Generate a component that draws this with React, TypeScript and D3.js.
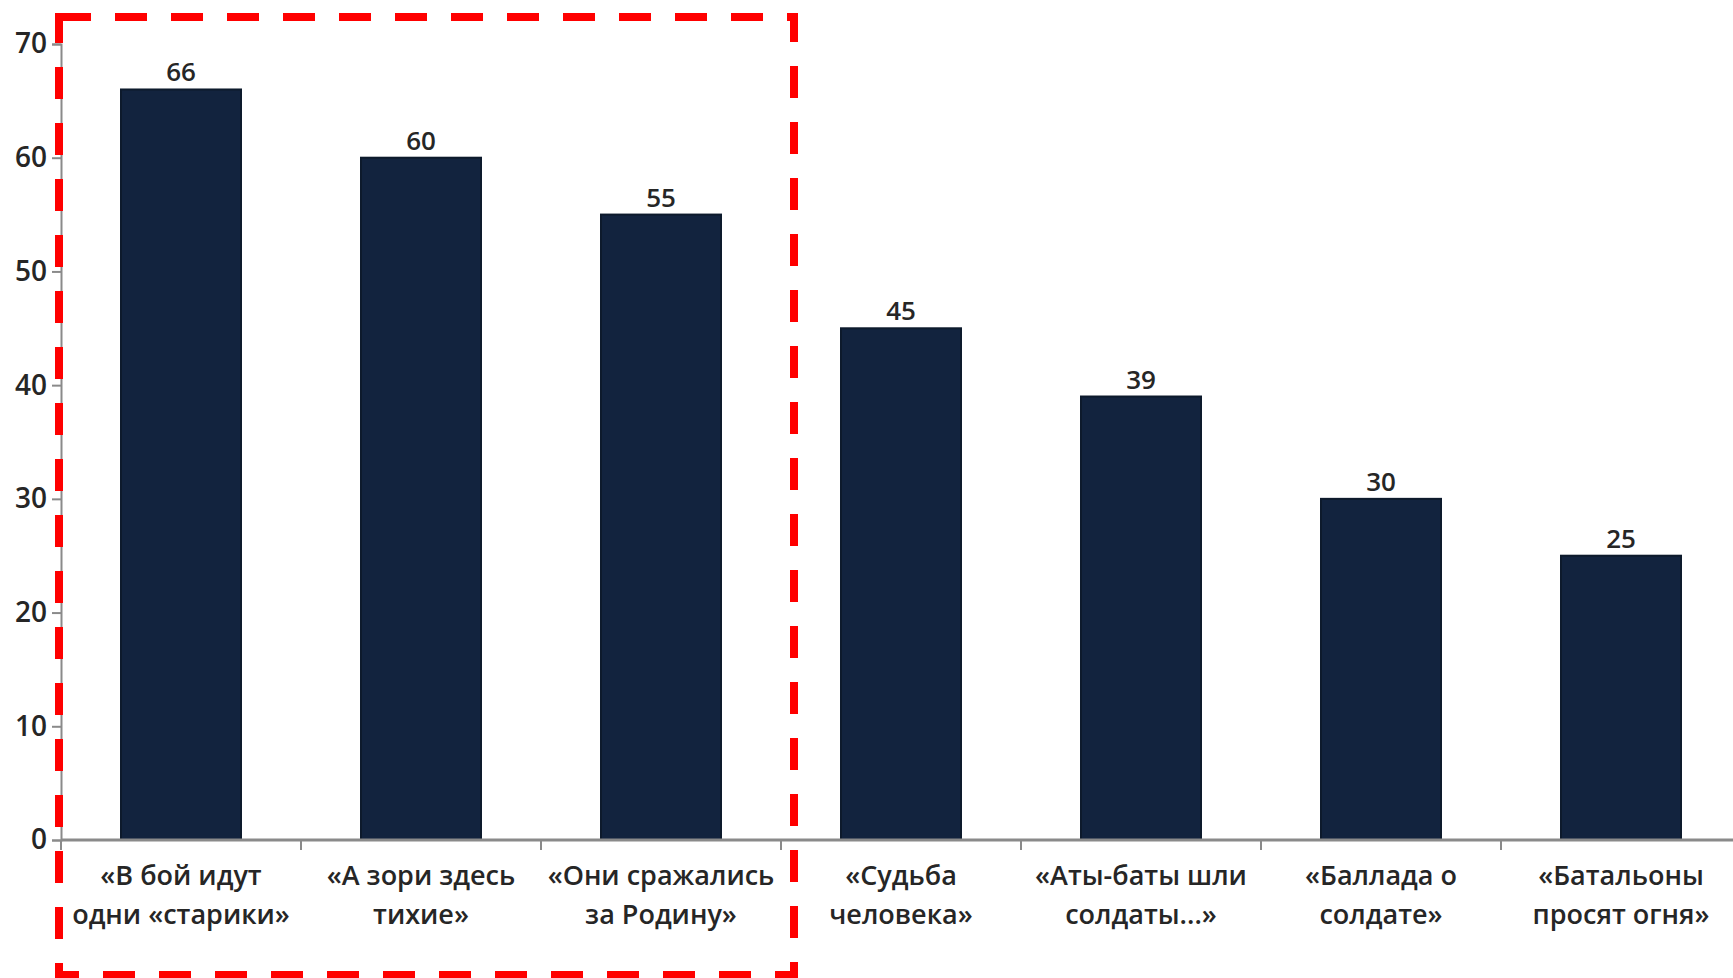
import React, { useRef, useEffect } from "react";
import * as d3 from "d3";

const categories = [
  "В бой идут одни старики",
  "А зори здесь тихие",
  "Они сражались за Родину",
  "Судьба человека",
  "Аты-баты шли солдаты",
  "Баллада о солдате",
  "Батальоны просят огня",
];

const labelLines = [
  ["«В бой идут", "одни «старики»"],
  ["«А зори здесь", "тихие»"],
  ["«Они сражались", "за Родину»"],
  ["«Судьба", "человека»"],
  ["«Аты-баты шли", "солдаты...»"],
  ["«Баллада о", "солдате»"],
  ["«Батальоны", "просят огня»"],
];

const values = [66, 60, 55, 45, 39, 30, 25];

const yTicks = [0, 10, 20, 30, 40, 50, 60, 70];

const App = () => {
  const node: any = useRef();

  useEffect(() => {
    const width = 1733,
      height = 978;
    const left = 61,
      step = 240,
      bottom = 840,
      top = 44;
    const font = "'Open Sans', 'DejaVu Sans', sans-serif";

    const svg = d3.select(node.current);
    svg.selectAll("*").remove();
    svg.attr("width", width).attr("height", height);

    svg.append("rect").attr("width", width).attr("height", height).attr("fill", "#fff");

    const x = d3
      .scaleBand()
      .domain(categories)
      .range([left, left + step * categories.length])
      .paddingInner(0.5)
      .paddingOuter(0.25);

    const y = d3.scaleLinear().domain([0, 70]).range([bottom, top]);

    // bars
    svg
      .selectAll("rect.bar")
      .data(values)
      .enter()
      .append("rect")
      .attr("class", "bar")
      .attr("x", (d, i) => x(categories[i]) as number)
      .attr("y", (d) => y(d))
      .attr("width", x.bandwidth())
      .attr("height", (d) => bottom - y(d))
      .attr("fill", "#12233e")
      .attr("stroke", "#0d1a2c")
      .attr("stroke-width", 2);

    // value labels
    svg
      .selectAll("text.val")
      .data(values)
      .enter()
      .append("text")
      .attr("class", "val")
      .attr("x", (d, i) => (x(categories[i]) as number) + x.bandwidth() / 2)
      .attr("y", (d) => y(d) - 8)
      .attr("text-anchor", "middle")
      .attr("font-family", font)
      .attr("font-weight", 600)
      .attr("font-size", 26)
      .attr("fill", "#262626")
      .text((d) => d);

    // y axis
    const ya = svg
      .append("g")
      .attr("transform", "translate(" + left + ",0)")
      .call(d3.axisLeft(y).tickValues(yTicks).tickSize(9).tickPadding(5));
    ya.select(".domain").attr("stroke", "#8a8a8a").attr("stroke-width", 2);
    ya.selectAll(".tick line").attr("stroke", "#8a8a8a").attr("stroke-width", 2);
    ya.selectAll(".tick text")
      .attr("font-family", font)
      .attr("font-weight", 600)
      .attr("font-size", 28)
      .attr("fill", "#262626");

    // x axis line and ticks between categories
    svg
      .append("line")
      .attr("x1", left)
      .attr("x2", width)
      .attr("y1", bottom)
      .attr("y2", bottom)
      .attr("stroke", "#8a8a8a")
      .attr("stroke-width", 3);
    svg
      .selectAll("line.xt")
      .data(d3.range(categories.length + 1))
      .enter()
      .append("line")
      .attr("class", "xt")
      .attr("x1", (i) => left + i * x.step())
      .attr("x2", (i) => left + i * x.step())
      .attr("y1", bottom)
      .attr("y2", bottom + 10)
      .attr("stroke", "#8a8a8a")
      .attr("stroke-width", 2);

    // category labels
    const lab = svg
      .selectAll("text.cat")
      .data(labelLines)
      .enter()
      .append("text")
      .attr("class", "cat")
      .attr("text-anchor", "middle")
      .attr("font-family", font)
      .attr("font-weight", 600)
      .attr("font-size", 27)
      .attr("fill", "#262626");
    lab
      .selectAll("tspan")
      .data((d, i) => d.map((t) => ({ t, i })))
      .enter()
      .append("tspan")
      .attr("x", (d) => (x(categories[d.i]) as number) + x.bandwidth() / 2)
      .attr("y", (d, j) => 885 + j * 39)
      .text((d) => d.t);

    // red dashed highlight frame
    svg
      .append("rect")
      .attr("x", 59)
      .attr("y", 17)
      .attr("width", 735)
      .attr("height", 958)
      .attr("fill", "none")
      .attr("stroke", "#ff0000")
      .attr("stroke-width", 8)
      .attr("stroke-dasharray", "32 24");
  }, []);

  return (
    <div style={{ position: "absolute", left: 0, top: 0 }}>
      <svg ref={node} style={{ display: "block" }}></svg>
    </div>
  );
};

export default App;
